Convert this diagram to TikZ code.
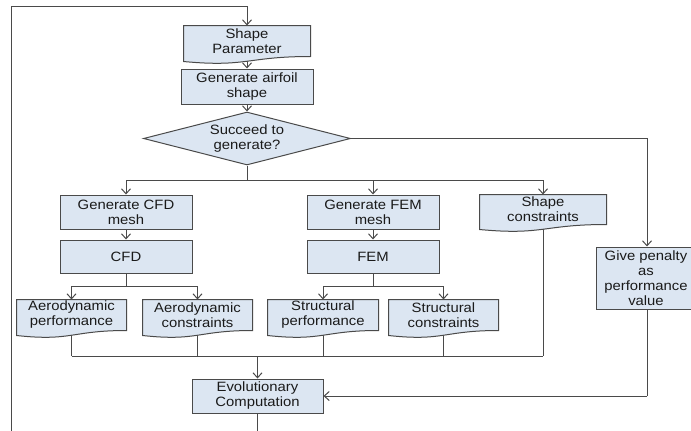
\documentclass[tikz,border=0pt]{standalone}
\usepackage{fontspec}
\setmainfont{Liberation Sans}[FakeStretch=1.1]
\usetikzlibrary{positioning,arrows.meta,calc,shapes.geometric,backgrounds}
\definecolor{boxfill}{HTML}{DCE6F2}
\definecolor{edge}{HTML}{4A4A4A}
\definecolor{ink}{HTML}{1A1A1A}
\tikzset{
  blk/.style={draw=edge,line width=1pt,fill=boxfill,align=center,inner sep=1pt,text=ink,
              minimum width=132pt,minimum height=34pt,font=\fontsize{13.5}{15}\selectfont},
  doc/.style={blk,draw=none,fill=none},
  dec/.style={blk,diamond,aspect=3.9,inner sep=0pt,minimum width=207pt,minimum height=53pt},
  wire/.style={draw=edge,line width=1pt},
  sig/.style={wire,-{Straight Barb[length=5pt,width=9pt]}},
}
% document shape with wavy bottom, drawn behind the node text
\newcommand{\docpath}[1]{%
  \filldraw[wire,fill=boxfill] (#1.south west) -- (#1.north west) -- (#1.north east)
    -- (#1.south east) .. controls (#1.south) and ($(#1.south)+(0,11)$)
    .. ($(#1.south west)+(0,5)$) -- cycle;}

\begin{document}
\begin{tikzpicture}[x=1pt,y=-1pt]
  \path[use as bounding box,clip] (0,0) rectangle (691,431);

  % ===== main column =====
  \node[doc,minimum width=126pt,minimum height=30pt] (sp) at (247,41) {Shape\\Parameter};
  \node[blk,minimum height=35pt]  (ga)  at (247,86.5)  {Generate airfoil\\shape};
  \node[dec]                      (dm)  at (247,138.5) {Succeed to\\generate?};

  % ===== CFD / FEM branches =====
  \node[blk]                      (cm)  at (126,212)   {Generate CFD\\mesh};
  \node[blk,minimum height=33pt]  (cfd) at (126,256.5) {CFD};
  \node[blk]                      (fm)  at (373,212)   {Generate FEM\\mesh};
  \node[blk,minimum height=33pt]  (fem) at (373,256.5) {FEM};
  \node[doc,minimum width=126pt,minimum height=29pt] (sc) at (543,209.5) {Shape\\constraints};
  \node[blk,minimum width=100pt,minimum height=62pt] (gp) at (646,278)
       {Give penalty\\as\\performance\\value};

  % ===== results =====
  \node[doc,minimum width=109pt,minimum height=30pt] (ap)  at (71.5,315)  {Aerodynamic\\performance};
  \node[doc,minimum width=109pt,minimum height=30pt] (ac)  at (197.5,315) {Aerodynamic\\constraints};
  \node[doc,minimum width=110pt,minimum height=30pt] (stp) at (323,315)   {Structural\\performance};
  \node[doc,minimum width=109pt,minimum height=30pt] (stc) at (443.5,315) {Structural\\constraints};
  \node[blk,minimum width=131pt]  (ec)  at (257.5,396) {Evolutionary\\Computation};

  % junctions and free ends
  \coordinate (jTop) at (247,6);
  \coordinate (jLt)  at (11,6);
  \coordinate (jLb)  at (11,431);
  \coordinate (jEb)  at (257.5,431);
  \coordinate (jDm)  at (247,180);
  \coordinate (jCfd) at (126,286);
  \coordinate (jFem) at (373,286);
  \coordinate (jBot) at (257.5,356);
  \coordinate (jGp)  at (647,396);

  \begin{scope}[on background layer]
    % connectors
    \draw[wire] (jLb) -- (jLt) -- (jTop);
    \draw[sig]  (jTop) -- (sp.north);
    \draw[sig]  (sp.south) -- (ga.north);
    \draw[sig]  (ga.south) -- (dm.north);
    \draw[wire] (dm.south) -- (jDm);
    \draw[wire] (cm.north |- jDm) -- (sc.north |- jDm);
    \draw[sig]  (cm.north |- jDm) -- (cm.north);
    \draw[sig]  (fm.north |- jDm) -- (fm.north);
    \draw[sig]  (sc.north |- jDm) -- (sc.north);
    \draw[sig]  (dm.east) -| (jGp |- gp.north);
    \draw[sig]  (cm.south) -- (cfd.north);
    \draw[sig]  (fm.south) -- (fem.north);
    \draw[wire] (cfd.south) -- (jCfd);
    \draw[wire] (ap.north |- jCfd) -- (ac.north |- jCfd);
    \draw[sig]  (ap.north |- jCfd) -- (ap.north);
    \draw[sig]  (ac.north |- jCfd) -- (ac.north);
    \draw[wire] (fem.south) -- (jFem);
    \draw[wire] (stp.north |- jFem) -- (stc.north |- jFem);
    \draw[sig]  (stp.north |- jFem) -- (stp.north);
    \draw[sig]  (stc.north |- jFem) -- (stc.north);
    \foreach \n in {ap,ac,stp,stc,sc}
      {\draw[wire] (\n.south) -- (\n.south |- jBot);}
    \draw[wire] (ap.south |- jBot) -- (sc.south |- jBot);
    \draw[sig]  (jBot) -- (ec.north);
    \draw[wire] (jGp |- gp.south) -- (jGp);
    \draw[sig]  (jGp) -- (ec.east);
    \draw[wire] (ec.south) -- (jEb);
  \end{scope}
  \begin{scope}[on background layer]
    \foreach \n in {sp,sc,ap,ac,stp,stc}
      {\docpath{\n}}
  \end{scope}
\end{tikzpicture}
\end{document}
